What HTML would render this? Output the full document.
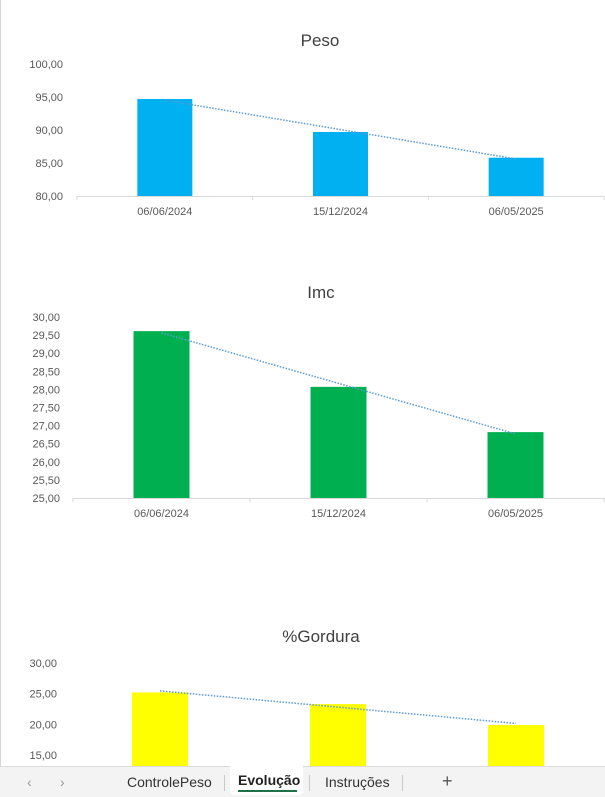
<!DOCTYPE html>
<html><head><meta charset="utf-8">
<style>
html,body{margin:0;padding:0;background:#fff;}
body{width:605px;height:797px;overflow:hidden;position:relative;font-family:"Liberation Sans",sans-serif;}
svg text{font-family:"Liberation Sans",sans-serif;}
#tabs{position:absolute;left:0;top:766px;width:605px;height:31px;background:#f3f3f3;border-top:1px solid #dcdcdc;box-sizing:border-box;font-size:14px;color:#333;}
.t{position:absolute;top:7px;}
.sep{position:absolute;top:8px;width:1px;height:16px;background:#c8c8c8;}
</style></head>
<body>
<div style="position:absolute;left:0;top:0;width:1px;height:766px;background:#d6d6d6"></div>
<svg id="c" width="605" height="766" style="position:absolute;left:0;top:0"></svg>
<div id="tabs">
  <span class="t" style="left:27px;color:#999">&#x2039;</span>
  <span class="t" style="left:60px;color:#999">&#x203A;</span>
  <span class="t" style="left:127px">ControlePeso</span>
  <div class="sep" style="left:224px"></div>
  <div style="position:absolute;left:230px;top:-1px;width:73px;height:29px;background:#fff;border-radius:0 0 4px 4px">
    <span style="position:absolute;left:8px;top:6px;font-weight:bold;color:#222">Evolução</span>
    <div style="position:absolute;left:8px;top:24px;width:59px;height:2px;background:#1e7145"></div>
  </div>
  <div class="sep" style="left:309px"></div>
  <span class="t" style="left:325px">Instruções</span>
  <div class="sep" style="left:402px"></div>
  <span class="t" style="left:442px;top:4px;font-size:18px;color:#555">+</span>
</div>
<script>
const categories = ["06/06/2024","15/12/2024","06/05/2025"];
const pesoValues = [94.7, 89.7, 85.8];
const imcValues = [29.61, 28.07, 26.82];
const gorduraValues = [25.2, 23.3, 19.9];
const pesoTicks = [80,85,90,95,100];
const imcTicks = [25,25.5,26,26.5,27,27.5,28,28.5,29,29.5,30];
const gorduraTicks = [15,20,25,30];

const NS="http://www.w3.org/2000/svg";
const svg=document.getElementById('c');
function mk(tag,attrs,parent){const e=document.createElementNS(NS,tag);for(const k in attrs)e.setAttribute(k,attrs[k]);(parent||svg).appendChild(e);return e;}
function fmt(v){return v.toFixed(2).replace('.',',');}

function chart(cfg){
  const g=mk('g',{});
  
  
  const y=v=>cfg.y0-(v-cfg.vmin)*(cfg.y0-cfg.y1)/(cfg.vmax-cfg.vmin);
  const bw=(cfg.x1-cfg.x0)/categories.length;
  const x=i=>cfg.x0+bw*(i+0.5);
  const bottom=cfg.showX?cfg.y0:cfg.clip;
  const t=mk('text',{x:cfg.tx,y:cfg.ty,'text-anchor':'middle','font-size':17,fill:'#404040'},g);
  t.textContent=cfg.title;
  
  
  cfg.ticks.forEach(v=>{
    const l=mk('text',{x:cfg.lx,y:y(v)+4,'text-anchor':'end','font-size':11,fill:'#595959'},g);
    l.textContent=fmt(v);
    
    
  });
  if(cfg.showX){
    const ax=mk('line',{x1:cfg.x0,x2:cfg.x1,y1:cfg.y0+0.5,y2:cfg.y0+0.5,stroke:'#d9d9d9'},g);
    
    
    for(let i=0;i<=categories.length;i++){
      mk('line',{x1:cfg.x0+bw*i,x2:cfg.x0+bw*i,y1:cfg.y0,y2:cfg.y0+4,stroke:'#d9d9d9'},g);
    }
  }
  cfg.values.forEach((v,i)=>{
    const top=y(v);
    const r=mk('rect',{x:x(i)-cfg.barW/2,y:top,width:cfg.barW,height:bottom-top,fill:cfg.color},g);
    
    
    if(cfg.showX){
      const c=mk('text',{x:x(i),y:cfg.y0+19,'text-anchor':'middle','font-size':11,fill:'#595959'},g);
      c.textContent=categories[i];
      
      
    }
  });
  const n=cfg.values.length;let mx=(n-1)/2,my=cfg.values.reduce((a,b)=>a+b,0)/n,num=0,den=0;
  cfg.values.forEach((v,i)=>{num+=(i-mx)*(v-my);den+=(i-mx)*(i-mx);});
  const s=num/den,b=my-s*mx;
  const tl=mk('line',{x1:x(0),y1:y(b),x2:x(n-1),y2:y(b+s*(n-1)),stroke:'#5b9bd5','stroke-width':1.5,'stroke-dasharray':'1.5 1.5'},g);
  
  
}
chart({name:'peso',title:'Peso',tx:320,ty:46,values:pesoValues,ticks:pesoTicks,vmin:80,vmax:100,y0:196,y1:64,x0:77,x1:604,lx:63,barW:55,color:'#00b0f0',showX:true,clip:999});
chart({name:'imc',title:'Imc',tx:321,ty:298,values:imcValues,ticks:imcTicks,vmin:25,vmax:30,y0:498,y1:317,x0:73,x1:604,lx:60,barW:56,color:'#00b050',showX:true,clip:999});
chart({name:'gordura',title:'%Gordura',tx:321,ty:642,values:gorduraValues,ticks:gorduraTicks,vmin:15,vmax:30,y0:755,y1:663,x0:71,x1:605,lx:57,barW:56,color:'#ffff00',showX:false,clip:766});
</script>
</body></html>
